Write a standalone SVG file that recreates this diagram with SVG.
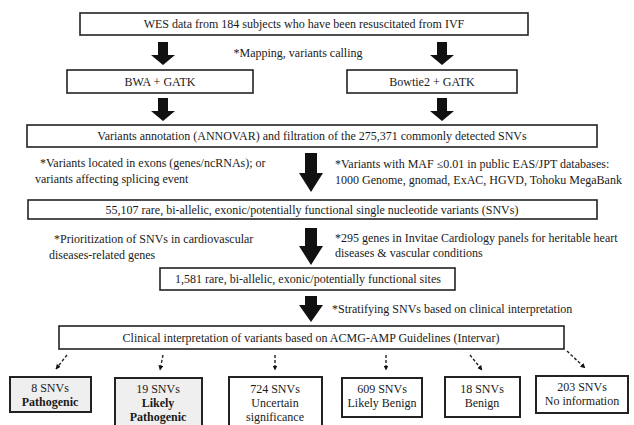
<svg xmlns="http://www.w3.org/2000/svg" width="634" height="425" viewBox="0 0 634 425">
<style>
.c{text-anchor:middle}
.b{font-weight:bold}
.box{fill:#fff;stroke:#222;stroke-width:1.6}
.gbox{fill:#efefef;stroke:#222;stroke-width:2}
.blk{fill:#111}
.dash{stroke:#222;stroke-width:1.4;stroke-dasharray:3 2;fill:none}
</style>
<defs>
<marker id="ah" viewBox="0 0 10 10" refX="9" refY="5" markerWidth="5" markerHeight="5" orient="auto" markerUnits="userSpaceOnUse">
<path d="M0,0 L10,5 L0,10 z" fill="#111"/>
</marker>
</defs>
<rect width="634" height="425" fill="#fff"/>

<g id="connectors">
<path class="blk" d="M158,42 h10 v13 h7 l-12,10 l-12,-10 h7 z"/>
<path class="blk" d="M437,42 h10 v13 h7 l-12,10 l-12,-10 h7 z"/>
<path class="blk" d="M158,98 h10 v13 h7 l-12,10 l-12,-10 h7 z"/>
<path class="blk" d="M437,98 h10 v13 h7 l-12,10 l-12,-10 h7 z"/>
<path class="blk" d="M305,153 h12 v20 h6 l-12,19 l-12,-19 h6 z"/>
<path class="blk" d="M305,228 h12 v18 h6 l-12,19 l-12,-19 h6 z"/>
<path class="blk" d="M305,296 h12 v9 h6 l-12,17 l-12,-17 h6 z"/>
<path class="dash" d="M67,355 L56,369" marker-end="url(#ah)"/>
<path class="dash" d="M163,355 L160,370" marker-end="url(#ah)"/>
<path class="dash" d="M275,355 L275,370" marker-end="url(#ah)"/>
<path class="dash" d="M386,355 L386,370" marker-end="url(#ah)"/>
<path class="dash" d="M470,355 L482,370" marker-end="url(#ah)"/>
<path class="dash" d="M567,351 L585,368" marker-end="url(#ah)"/>
</g>

<g font-family="'Liberation Serif', 'DejaVu Serif', 'Times New Roman', serif" font-size="12" fill="#1a1a1a">
<g id="n-wes">
<rect class="box" x="80" y="13" width="448" height="22"/>
<text class="c" x="304" y="28">WES data from 184 subjects who have been resuscitated from IVF</text>
</g>
<g id="l-mapping"><text class="c" x="298" y="57">*Mapping, variants calling</text></g>
<g id="n-bwa">
<rect class="box" x="67" y="70" width="186" height="23"/>
<text class="c" x="160" y="86">BWA + GATK</text>
</g>
<g id="n-bowtie">
<rect class="box" x="347" y="70" width="170" height="23"/>
<text class="c" x="432" y="86">Bowtie2 + GATK</text>
</g>
<g id="n-annot">
<rect class="box" x="27" y="125" width="570" height="22"/>
<text class="c" x="312" y="140">Variants annotation (ANNOVAR) and filtration of the 275,371 commonly detected SNVs</text>
</g>
<g id="l-exons">
<text x="40" y="167">*Variants located in exons (genes/ncRNAs); or</text>
<text x="35" y="183">variants affecting splicing event</text>
</g>
<g id="l-maf">
<text x="335" y="168">*Variants with MAF ≤0.01 in public EAS/JPT databases:</text>
<text x="335" y="184">1000 Genome, gnomad, ExAC, HGVD, Tohoku MegaBank</text>
</g>
<g id="n-55107">
<rect class="box" x="28" y="200" width="569" height="19"/>
<text class="c" x="312" y="214">55,107 rare, bi-allelic,  exonic/potentially functional single nucleotide variants (SNVs)</text>
</g>
<g id="l-prior">
<text x="54" y="243">*Prioritization of SNVs in cardiovascular</text>
<text x="49" y="259">diseases-related genes</text>
</g>
<g id="l-295">
<text x="335" y="242">*295 genes in Invitae Cardiology panels for heritable heart</text>
<text x="335" y="257">diseases &amp; vascular conditions</text>
</g>
<g id="n-1581">
<rect class="box" x="160" y="268" width="295" height="22"/>
<text class="c" x="308" y="283">1,581 rare, bi-allelic,  exonic/potentially functional sites</text>
</g>
<g id="l-strat"><text x="332" y="313">*Stratifying SNVs based on clinical  interpretation</text></g>
<g id="n-clin">
<rect class="box" x="59" y="326" width="505" height="23"/>
<text class="c" x="311" y="342">Clinical  interpretation of variants based on ACMG-AMP Guidelines (Intervar)</text>
</g>
<g id="n-path">
<rect class="gbox" x="10" y="377" width="81" height="35"/>
<text class="c" x="50" y="392">8 SNVs</text>
<text class="c b" x="50" y="406">Pathogenic</text>
</g>
<g id="n-lpath">
<rect class="gbox" x="115" y="378" width="87" height="52"/>
<text class="c" x="158" y="393">19 SNVs</text>
<text class="c b" x="158" y="407">Likely</text>
<text class="c b" x="158" y="421">Pathogenic</text>
</g>
<g id="n-unc">
<rect class="box" x="229" y="377" width="93" height="53" style="stroke-width:2"/>
<text class="c" x="275" y="393">724 SNVs</text>
<text class="c" x="275" y="407">Uncertain</text>
<text class="c" x="275" y="421">significance</text>
</g>
<g id="n-lben">
<rect class="box" x="342" y="378" width="80" height="39" style="stroke-width:2"/>
<text class="c" x="382" y="393">609 SNVs</text>
<text class="c" x="382" y="407">Likely Benign</text>
</g>
<g id="n-ben">
<rect class="box" x="445" y="377" width="75" height="40" style="stroke-width:2"/>
<text class="c" x="482" y="393">18 SNVs</text>
<text class="c" x="482" y="407">Benign</text>
</g>
<g id="n-noinfo">
<rect class="box" x="536" y="376" width="92" height="37" style="stroke-width:2"/>
<text class="c" x="582" y="391">203 SNVs</text>
<text class="c" x="582" y="405">No information</text>
</g>
</g>
</svg>
